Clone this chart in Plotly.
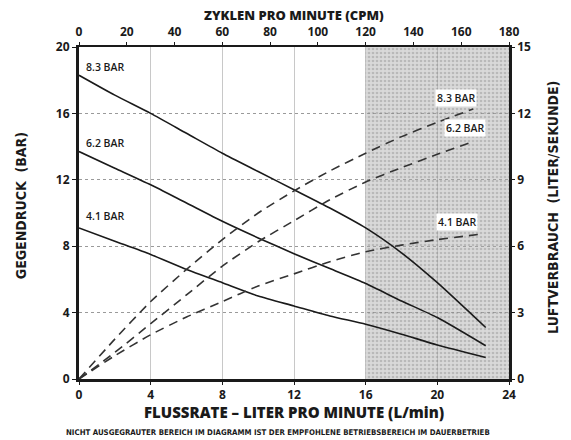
import plotly.graph_objects as go

# Gegendruck (bar) ueber Flussrate (L/min), eine Kurve je Luftdruck
flow_lpm = [0, 2, 4, 6, 8, 10, 12, 14, 16, 18, 20, 22.7]
head_8_3 = [18.3, 17.1, 16.0, 14.8, 13.6, 12.5, 11.4, 10.3, 9.1, 7.6, 5.8, 3.1]
head_6_2 = [13.7, 12.7, 11.7, 10.6, 9.5, 8.5, 7.55, 6.65, 5.75, 4.7, 3.7, 2.0]
head_4_1 = [9.1, 8.3, 7.5, 6.6, 5.8, 5.0, 4.4, 3.8, 3.3, 2.7, 2.05, 1.3]

# Luftverbrauch (Liter/Sekunde), rechte Achse
air_flow_8_3 = [0, 2, 4, 6, 8, 10, 12, 14, 16, 18, 20, 22]
air_8_3 = [0, 1.8, 3.5, 4.95, 6.3, 7.5, 8.5, 9.4, 10.2, 10.95, 11.6, 12.2]
air_flow_6_2 = [0, 2, 4, 6, 8, 10, 12, 14, 16, 18, 20, 21.9]
air_6_2 = [0, 1.2, 2.5, 3.8, 5.1, 6.2, 7.15, 8.1, 8.9, 9.55, 10.15, 10.7]
air_flow_4_1 = [0, 2, 4, 6, 8, 10, 12, 14, 16, 18, 20, 22.5]
air_4_1 = [0, 1.05, 2.0, 2.8, 3.5, 4.2, 4.75, 5.3, 5.75, 6.05, 6.3, 6.55]

pressure_labels = ["8.3 BAR", "6.2 BAR", "4.1 BAR"]
# where the labels sit: left ones above the head curves, right ones at the air curves
left_label_y = [18.8, 14.2, 9.8]
right_label_pos = [(21.05, 16.95), (21.55, 15.15), (21.1, 9.45)]

shade_from, shade_to = 16, 24
x_range = [0, 24]
y_range = [0, 20]
cpm_range = [0, 180]
air_range = [0, 15]

BOLD = "Open Sans"
NARROW = "DejaVu Sans Condensed, Liberation Sans Narrow, sans-serif"
INK = "#1a1a1a"

fig = go.Figure()

# grey (non recommended) area, semi transparent so the grid shows through
fig.add_trace(go.Scatter(
    x=[shade_from, shade_to, shade_to, shade_from, shade_from],
    y=[y_range[0], y_range[0], y_range[1], y_range[1], y_range[0]],
    fill="toself",
    mode="none",
    fillcolor="rgba(165,165,165,0.45)",
    fillpattern=dict(shape=".", bgcolor="rgba(170,170,170,0.45)",
                     fgcolor="rgba(110,110,110,0.6)", size=4, solidity=0.35),
    hoverinfo="skip",
    showlegend=False,
))

for ys in (head_8_3, head_6_2, head_4_1):
    fig.add_trace(go.Scatter(
        x=flow_lpm, y=ys, mode="lines",
        line=dict(color=INK, width=1.6, shape="spline", smoothing=0.6),
        showlegend=False,
    ))

for xs, ys in ((air_flow_8_3, air_8_3), (air_flow_6_2, air_6_2), (air_flow_4_1, air_4_1)):
    fig.add_trace(go.Scatter(
        x=xs, y=ys, mode="lines", yaxis="y2",
        line=dict(color="#333333", width=1.6, dash="9px,6px", shape="spline", smoothing=0.6),
        showlegend=False,
    ))

# invisible trace so the top CPM axis is drawn
fig.add_trace(go.Scatter(x=cpm_range, y=y_range, xaxis="x2", mode="none",
                         hoverinfo="skip", showlegend=False))

label_font = dict(family=BOLD, size=10.5, color=INK, weight=600)
for label, ly in zip(pressure_labels, left_label_y):
    fig.add_annotation(x=0.3, y=ly, text=label, showarrow=False, xanchor="left",
                       font=label_font)

for label, (lx, ly) in zip(pressure_labels, right_label_pos):
    fig.add_annotation(x=lx, y=ly, text=label, showarrow=False,
                       bgcolor="white", borderpad=1, font=label_font)

tick_font = dict(family=BOLD, size=12, color=INK, weight=700)

# the page body has an 8px margin, so the figure is 8px smaller than the window
fig.update_layout(
    width=563, height=432,
    margin=dict(l=71, r=62, t=39, b=61),
    plot_bgcolor="white", paper_bgcolor="white",
    xaxis=dict(range=x_range, dtick=4, showgrid=True, gridcolor="#c8c8c8", gridwidth=1,
               zeroline=False, showline=True, linecolor=INK, linewidth=3,
               ticks="outside", ticklen=3, tickcolor=INK, tickfont=tick_font),
    xaxis2=dict(range=cpm_range, dtick=20, overlaying="x", side="top",
                showgrid=False, zeroline=False, showline=True, linecolor=INK,
                linewidth=2, ticks="outside", ticklen=3, tickcolor=INK,
                tickfont=tick_font, ticklabelstandoff=1),
    yaxis=dict(range=y_range, dtick=4, showgrid=True, gridcolor="#9a9a9a", gridwidth=1,
               griddash="dot", zeroline=False, showline=True, linecolor=INK, linewidth=3,
               ticks="outside", ticklen=4, tickcolor=INK, tickfont=tick_font),
    yaxis2=dict(range=air_range, dtick=3, overlaying="y", side="right",
                showgrid=False, zeroline=False, showline=True, linecolor=INK,
                linewidth=2.5, ticks="outside", ticklen=3, tickcolor=INK, tickfont=tick_font),
)

fig.add_annotation(xref="paper", yref="paper", x=0.5, y=1.096, text="ZYKLEN PRO MINUTE (CPM)",
                   xanchor="center", yanchor="middle", showarrow=False,
                   font=dict(family=BOLD, size=13, color=INK, weight=800))
fig.add_annotation(xref="paper", yref="paper", x=0.5, y=-0.098,
                   text="FLUSSRATE – LITER PRO MINUTE (L/min)",
                   xanchor="center", yanchor="middle", showarrow=False,
                   font=dict(family=BOLD, size=15, color=INK, weight=800))
fig.add_annotation(xref="paper", yref="paper", x=0.462, y=-0.162,
                   text="NICHT AUSGEGRAUTER BEREICH IM DIAGRAMM IST DER EMPFOHLENE BETRIEBSBEREICH IM DAUERBETRIEB",
                   xanchor="center", yanchor="middle", showarrow=False,
                   font=dict(family=NARROW, size=7.8, color=INK, weight=700))
fig.add_annotation(xref="paper", yref="paper", x=-0.133, y=0.523, text="GEGENDRUCK  (BAR)",
                   xanchor="center", yanchor="middle", textangle=-90, showarrow=False,
                   font=dict(family=NARROW, size=14, color=INK, weight=700))
fig.add_annotation(xref="paper", yref="paper", x=1.102, y=0.518,
                   text="LUFTVERBRAUCH  (LITER/SEKUNDE)",
                   xanchor="center", yanchor="middle", textangle=-90, showarrow=False,
                   font=dict(family=NARROW, size=14, color=INK, weight=700))

fig.write_html("out.html")
